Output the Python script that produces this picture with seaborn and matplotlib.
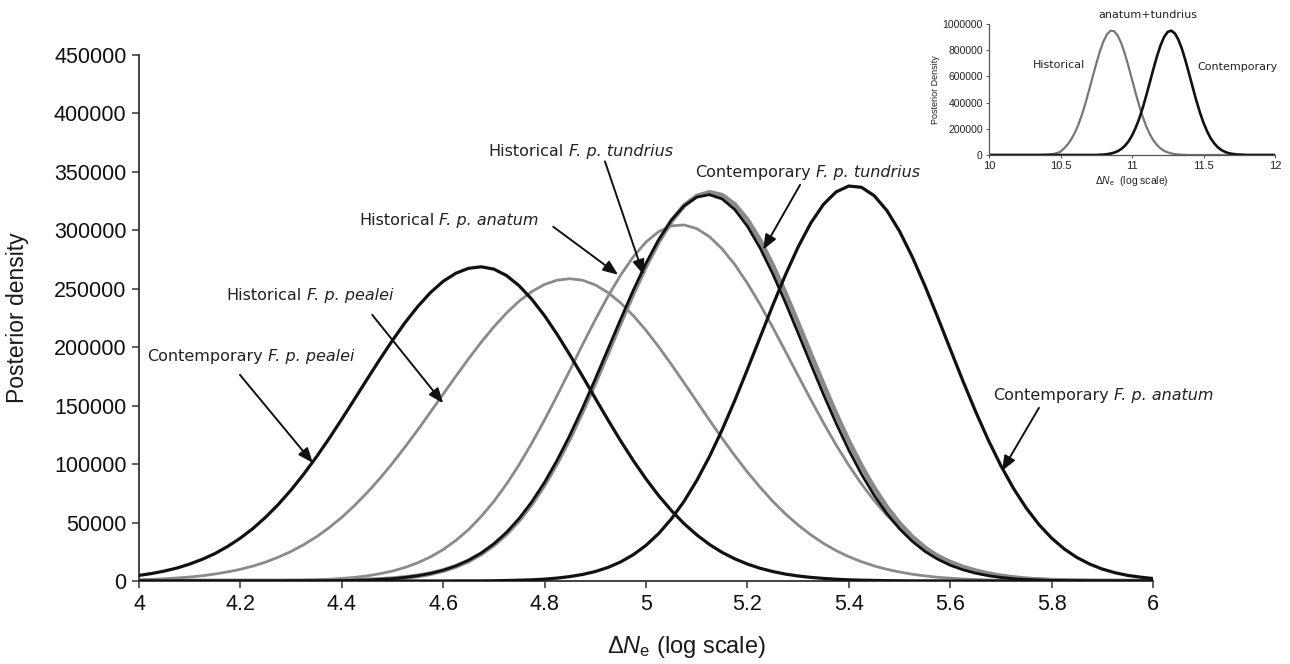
import numpy as np
import pandas as pd
import matplotlib
matplotlib.use("Agg")
import matplotlib.pyplot as plt
from matplotlib.ticker import FuncFormatter, FixedLocator
from matplotlib.offsetbox import TextArea, HPacker, AnnotationBbox
import seaborn as sns

# ---------------- data ----------------
x_main = [4.000, 4.025, 4.050, 4.075, 4.100, 4.125, 4.150, 4.175, 4.200, 4.225,
          4.250, 4.275, 4.300, 4.325, 4.350, 4.375, 4.400, 4.425, 4.450, 4.475,
          4.500, 4.525, 4.550, 4.575, 4.600, 4.625, 4.650, 4.675, 4.700, 4.725,
          4.750, 4.775, 4.800, 4.825, 4.850, 4.875, 4.900, 4.925, 4.950, 4.975,
          5.000, 5.025, 5.050, 5.075, 5.100, 5.125, 5.150, 5.175, 5.200, 5.225,
          5.250, 5.275, 5.300, 5.325, 5.350, 5.375, 5.400, 5.425, 5.450, 5.475,
          5.500, 5.525, 5.550, 5.575, 5.600, 5.625, 5.650, 5.675, 5.700, 5.725,
          5.750, 5.775, 5.800, 5.825, 5.850, 5.875, 5.900, 5.925, 5.950, 5.975,
          6.000]

# posterior density, in thousands
cont_pealei_k = [4.8, 6.4, 8.5, 11.1, 14.5, 18.6, 23.5, 29.6, 36.7, 45.0,
                 54.7, 65.6, 77.9, 91.5, 106.2, 121.9, 138.5, 155.5, 172.7, 189.6,
                 205.9, 221.2, 234.9, 246.8, 256.4, 263.3, 267.5, 268.8, 266.8, 261.3,
                 252.5, 240.9, 226.9, 210.8, 193.3, 175.0, 156.3, 137.8, 119.9, 103.0,
                 87.3, 73.0, 60.3, 49.1, 39.5, 31.3, 24.5, 19.0, 14.5, 10.9,
                 8.1, 5.9, 4.3, 3.1, 2.2, 1.5, 1.0, 0.7, 0.5, 0.3,
                 0.2, 0.1, 0.1, 0.1, 0.0, 0.0, 0.0, 0.0, 0.0, 0.0,
                 0.0, 0.0, 0.0, 0.0, 0.0, 0.0, 0.0, 0.0, 0.0, 0.0,
                 0.0]
hist_pealei_k = [1.0, 1.4, 1.9, 2.6, 3.4, 4.5, 6.0, 7.8, 10.0, 12.8,
                 16.2, 20.4, 25.3, 31.1, 37.8, 45.6, 54.5, 64.5, 75.6, 87.7,
                 100.8, 114.8, 129.4, 144.6, 159.9, 175.2, 190.1, 204.3, 217.5, 229.3,
                 239.5, 247.7, 253.7, 257.4, 258.6, 257.3, 253.3, 246.8, 237.9, 227.0,
                 214.4, 200.4, 185.3, 169.6, 153.7, 137.7, 122.2, 107.3, 93.2, 80.2,
                 68.2, 57.4, 47.9, 39.5, 32.2, 26.0, 20.8, 16.5, 12.9, 10.0,
                 7.7, 5.8, 4.4, 3.2, 2.4, 1.7, 1.3, 0.9, 0.6, 0.4,
                 0.3, 0.2, 0.1, 0.1, 0.1, 0.0, 0.0, 0.0, 0.0, 0.0,
                 0.0]
hist_anatum_k = [0.0, 0.0, 0.0, 0.0, 0.0, 0.0, 0.0, 0.0, 0.1, 0.1,
                 0.2, 0.3, 0.4, 0.7, 1.0, 1.5, 2.2, 3.1, 4.4, 6.2,
                 8.5, 11.6, 15.6, 20.6, 26.9, 34.7, 44.0, 55.2, 68.1, 83.0,
                 99.7, 118.1, 137.9, 158.9, 180.5, 202.3, 223.5, 243.6, 261.7, 277.4,
                 290.0, 298.9, 303.8, 304.6, 301.5, 294.6, 284.2, 270.8, 254.7, 236.6,
                 217.0, 196.5, 175.7, 155.2, 135.3, 116.4, 99.0, 83.1, 68.8, 56.3,
                 45.5, 36.3, 28.6, 22.2, 17.1, 12.9, 9.7, 7.2, 5.2, 3.8,
                 2.7, 1.9, 1.3, 0.9, 0.6, 0.4, 0.3, 0.2, 0.1, 0.1,
                 0.0]
hist_tundrius_k = [0.0, 0.0, 0.0, 0.0, 0.0, 0.0, 0.0, 0.0, 0.0, 0.0,
                   0.0, 0.0, 0.1, 0.1, 0.1, 0.2, 0.3, 0.5, 0.9, 1.3,
                   2.0, 3.0, 4.4, 6.3, 9.0, 12.5, 17.2, 23.3, 31.0, 40.6,
                   52.3, 66.3, 82.7, 101.5, 122.5, 145.5, 170.0, 195.5, 221.2, 246.2,
                   269.5, 290.4, 307.8, 321.0, 329.4, 332.5, 330.1, 322.2, 309.1, 291.5,
                   270.2, 246.3, 220.6, 194.3, 168.2, 143.1, 119.7, 98.5, 79.6, 63.2,
                   49.4, 37.9, 28.6, 21.2, 15.5, 11.1, 7.8, 5.4, 3.7, 2.5,
                   1.6, 1.1, 0.7, 0.4, 0.3, 0.2, 0.1, 0.1, 0.0, 0.0,
                   0.0]
cont_tundrius_k = [0.0, 0.0, 0.0, 0.0, 0.0, 0.0, 0.0, 0.0, 0.0, 0.0,
                   0.0, 0.0, 0.1, 0.1, 0.1, 0.2, 0.4, 0.6, 0.9, 1.4,
                   2.0, 3.1, 4.5, 6.5, 9.2, 12.9, 17.7, 23.9, 31.8, 41.6,
                   53.6, 67.9, 84.5, 103.6, 124.9, 148.2, 172.9, 198.4, 224.0, 248.8,
                   271.8, 292.0, 308.7, 321.0, 328.4, 330.5, 326.9, 317.8, 303.5, 284.9,
                   262.8, 238.2, 212.1, 185.6, 159.7, 134.9, 112.0, 91.4, 73.3, 57.8,
                   44.7, 34.0, 25.4, 18.7, 13.5, 9.6, 6.7, 4.6, 3.1, 2.0,
                   1.3, 0.9, 0.5, 0.3, 0.2, 0.1, 0.1, 0.0, 0.0, 0.0,
                   0.0]
cont_anatum_k = [0.0, 0.0, 0.0, 0.0, 0.0, 0.0, 0.0, 0.0, 0.0, 0.0,
                 0.0, 0.0, 0.0, 0.0, 0.0, 0.0, 0.0, 0.0, 0.0, 0.0,
                 0.0, 0.0, 0.0, 0.0, 0.0, 0.1, 0.1, 0.1, 0.2, 0.4,
                 0.7, 1.0, 1.6, 2.5, 3.8, 5.6, 8.1, 11.6, 16.3, 22.5,
                 30.5, 40.6, 53.1, 68.1, 85.9, 106.3, 129.2, 154.3, 181.0, 208.4,
                 235.8, 261.9, 285.7, 306.2, 322.2, 332.9, 337.9, 336.8, 329.7, 317.0,
                 299.3, 277.5, 252.7, 226.0, 198.5, 171.2, 145.1, 120.7, 98.6, 79.1,
                 62.4, 48.3, 36.7, 27.4, 20.1, 14.5, 10.2, 7.1, 4.8, 3.3,
                 2.1]

x_inset = [10.000, 10.025, 10.050, 10.075, 10.100, 10.125, 10.150, 10.175, 10.200, 10.225,
           10.250, 10.275, 10.300, 10.325, 10.350, 10.375, 10.400, 10.425, 10.450, 10.475,
           10.500, 10.525, 10.550, 10.575, 10.600, 10.625, 10.650, 10.675, 10.700, 10.725,
           10.750, 10.775, 10.800, 10.825, 10.850, 10.875, 10.900, 10.925, 10.950, 10.975,
           11.000, 11.025, 11.050, 11.075, 11.100, 11.125, 11.150, 11.175, 11.200, 11.225,
           11.250, 11.275, 11.300, 11.325, 11.350, 11.375, 11.400, 11.425, 11.450, 11.475,
           11.500, 11.525, 11.550, 11.575, 11.600, 11.625, 11.650, 11.675, 11.700, 11.725,
           11.750, 11.775, 11.800, 11.825, 11.850, 11.875, 11.900, 11.925, 11.950, 11.975,
           12.000]
inset_hist_k = [0, 0, 0, 0, 0, 0, 0, 0, 0, 0,
                0, 0, 0, 0, 0, 1, 2, 5, 8, 15,
                25, 50, 80, 120, 169, 232, 308, 397, 495, 597,
                697, 790, 866, 921, 949, 945, 912, 853, 772, 678,
                576, 474, 378, 292, 218, 158, 111, 76, 50, 32,
                20, 12, 7, 4, 2, 1, 0, 0, 0, 0,
                0, 0, 0, 0, 0, 0, 0, 0, 0, 0,
                0, 0, 0, 0, 0, 0, 0, 0, 0, 0,
                0]
inset_cont_k = [0, 0, 0, 0, 0, 0, 0, 0, 0, 0,
                0, 0, 0, 0, 0, 0, 0, 0, 0, 0,
                0, 0, 0, 0, 0, 0, 0, 0, 0, 0,
                0, 2, 3, 6, 11, 18, 29, 46, 70, 103,
                148, 206, 276, 360, 455, 556, 658, 755, 838, 902,
                940, 949, 928, 879, 807, 717, 617, 515, 415, 325,
                246, 181, 128, 89, 59, 38, 24, 14, 9, 5,
                3, 2, 0, 0, 0, 0, 0, 0, 0, 0,
                0]

series_names = ["Historical F. p. tundrius", "Historical F. p. pealei",
                "Historical F. p. anatum", "Contemporary F. p. pealei",
                "Contemporary F. p. tundrius", "Contemporary F. p. anatum"]
series_values = [hist_tundrius_k, hist_pealei_k, hist_anatum_k,
                 cont_pealei_k, cont_tundrius_k, cont_anatum_k]

x_ticks = [4, 4.2, 4.4, 4.6, 4.8, 5, 5.2, 5.4, 5.6, 5.8, 6]
y_ticks = [0, 50000, 100000, 150000, 200000, 250000, 300000, 350000, 400000, 450000]
inset_x_ticks = [10, 10.5, 11, 11.5, 12]
inset_y_ticks = [0, 200000, 400000, 600000, 800000, 1000000]

# annotation labels: (plain word, italic part, left x, centre y)
ann_text = [
    ("Contemporary", "F. p. pealei", 4.016, 191800),
    ("Historical", "F. p. pealei", 4.173, 244300),
    ("Historical", "F. p. anatum", 4.434, 308200),
    ("Historical", "F. p. tundrius", 4.690, 367500),
    ("Contemporary", "F. p. tundrius", 5.097, 349600),
    ("Contemporary", "F. p. anatum", 5.685, 158400),
]
arrow_tails = [(4.199, 176400), (4.460, 227700), (4.817, 303100),
               (4.919, 359000), (5.304, 339000), (5.775, 148100)]
arrow_tips = [(4.343, 101000), (4.600, 152100), (4.945, 262000),
              (4.995, 262000), (5.231, 283400), (5.702, 94200)]

# ---------------- style ----------------
sns.set_theme(style="white")
plt.rcParams['font.family'] = ['Liberation Sans', 'DejaVu Sans']
plt.rcParams['mathtext.fontset'] = 'custom'
plt.rcParams['mathtext.rm'] = 'Liberation Sans'
plt.rcParams['mathtext.it'] = 'Liberation Sans:italic'

GREY = "#8a8a8a"
BLACK = "#111111"
styles = {
    "Historical F. p. tundrius": dict(color=GREY, lw=3.4, z=2),
    "Historical F. p. pealei": dict(color=GREY, lw=2.0, z=3),
    "Historical F. p. anatum": dict(color=GREY, lw=2.0, z=3),
    "Contemporary F. p. pealei": dict(color=BLACK, lw=2.3, z=4),
    "Contemporary F. p. tundrius": dict(color=BLACK, lw=2.0, z=4),
    "Contemporary F. p. anatum": dict(color=BLACK, lw=2.3, z=4),
}

rows = []
for name, vals in zip(series_names, series_values):
    for xv, yv in zip(x_main, vals):
        rows.append((name, xv, yv * 1000.0))
main_df = pd.DataFrame(rows, columns=["series", "x", "density"])

inset_df = pd.DataFrame({
    "x": x_inset * 2,
    "density": [v * 1000.0 for v in inset_hist_k] + [v * 1000.0 for v in inset_cont_k],
    "series": ["Historical"] * len(x_inset) + ["Contemporary"] * len(x_inset),
})

fig = plt.figure(figsize=(12.9, 6.64), dpi=100)
fig.patch.set_facecolor("white")
ax = fig.add_axes([139 / 1290, 1 - 581 / 664, 1014 / 1290, 526 / 664])
ax.set_facecolor("white")

for name in series_names:
    st = styles[name]
    sub = main_df[main_df["series"] == name]
    sns.lineplot(data=sub, x="x", y="density", ax=ax, color=st["color"],
                 lw=st["lw"], zorder=st["z"], estimator=None, sort=False,
                 legend=False)

ax.set_xlim(4, 6)
ax.set_ylim(0, 450000)
ax.xaxis.set_major_locator(FixedLocator(x_ticks))
ax.yaxis.set_major_locator(FixedLocator(y_ticks))
ax.xaxis.set_major_formatter(FuncFormatter(lambda v, p: f"{v:g}"))
ax.yaxis.set_major_formatter(FuncFormatter(lambda v, p: f"{int(round(v))}"))
for s in ["top", "right"]:
    ax.spines[s].set_visible(False)
for s in ["left", "bottom"]:
    ax.spines[s].set_color("#333333")
    ax.spines[s].set_linewidth(1.3)
ax.tick_params(axis="both", direction="out", length=5, width=1.1,
               color="#333333", labelsize=15.5, labelcolor="#111111", pad=4,
               bottom=True, left=True)
ax.grid(False)

ax.set_ylabel("Posterior density", fontsize=16.5, color="#1a1a1a")
ax.yaxis.set_label_coords(-0.108, 0.5)
ax.set_xlabel(r"$\Delta N_\mathrm{e}$ (log scale)", fontsize=17, color="#1a1a1a")
ax.xaxis.set_label_coords(0.540, -0.100)

FS = 11.5
for (word, ital, tx, ty) in ann_text:
    t1 = TextArea(word, textprops=dict(fontsize=FS, family="DejaVu Sans",
                                       color="#222222"))
    t2 = TextArea(ital, textprops=dict(fontsize=FS, family="DejaVu Sans",
                                       style="italic", color="#222222"))
    box = HPacker(children=[t1, t2], align="baseline", pad=0, sep=FS * 0.32)
    ab = AnnotationBbox(box, (tx, ty), xycoords="data", box_alignment=(0, 0.5),
                        frameon=False, pad=0, zorder=6)
    ax.add_artist(ab)
for tail, tip in zip(arrow_tails, arrow_tips):
    ax.annotate("", xy=tip, xytext=tail,
                arrowprops=dict(arrowstyle="-|>,head_length=0.75,head_width=0.3",
                                color="#111111", lw=1.4, shrinkA=0, shrinkB=0),
                zorder=6)

# ---------------- inset ----------------
ia = fig.add_axes([989 / 1290, 1 - 155 / 664, 286 / 1290, 131 / 664])
ia.set_facecolor("white")
sns.lineplot(data=inset_df[inset_df["series"] == "Historical"], x="x", y="density",
             ax=ia, color="#777777", lw=1.6, estimator=None, sort=False, legend=False)
sns.lineplot(data=inset_df[inset_df["series"] == "Contemporary"], x="x", y="density",
             ax=ia, color=BLACK, lw=1.9, estimator=None, sort=False, legend=False)
ia.set_xlim(10, 12)
ia.set_ylim(0, 1000000)
ia.xaxis.set_major_locator(FixedLocator(inset_x_ticks))
ia.yaxis.set_major_locator(FixedLocator(inset_y_ticks))
ia.xaxis.set_major_formatter(FuncFormatter(lambda v, p: f"{v:g}"))
ia.yaxis.set_major_formatter(FuncFormatter(lambda v, p: f"{int(round(v))}"))
for s in ["top", "right"]:
    ia.spines[s].set_visible(False)
for s in ["left", "bottom"]:
    ia.spines[s].set_color("#555555")
    ia.spines[s].set_linewidth(0.9)
ia.tick_params(axis="both", direction="out", length=2.5, width=0.7,
               color="#555555", labelsize=7.5, labelcolor="#222222", pad=2,
               bottom=True, left=True)
ia.tick_params(axis="x", labelsize=8)
ia.grid(False)
ia.set_ylabel("Posterior Density", fontsize=6.5, color="#222222", labelpad=2)
ia.set_xlabel(r"$\Delta N_\mathrm{e}$  (log scale)", fontsize=7.5, color="#222222",
              labelpad=2)
ia.text(11.112, 1070000, "anatum+tundrius", fontsize=8, family="DejaVu Sans",
        color="#222222", ha="center", va="center", clip_on=False)
ia.text(10.308, 687000, "Historical", fontsize=8, family="DejaVu Sans",
        color="#222222", ha="left", va="center")
ia.text(11.455, 672000, "Contemporary", fontsize=8, family="DejaVu Sans",
        color="#222222", ha="left", va="center", clip_on=False)

fig.savefig("out.png", dpi=100, facecolor="white")
